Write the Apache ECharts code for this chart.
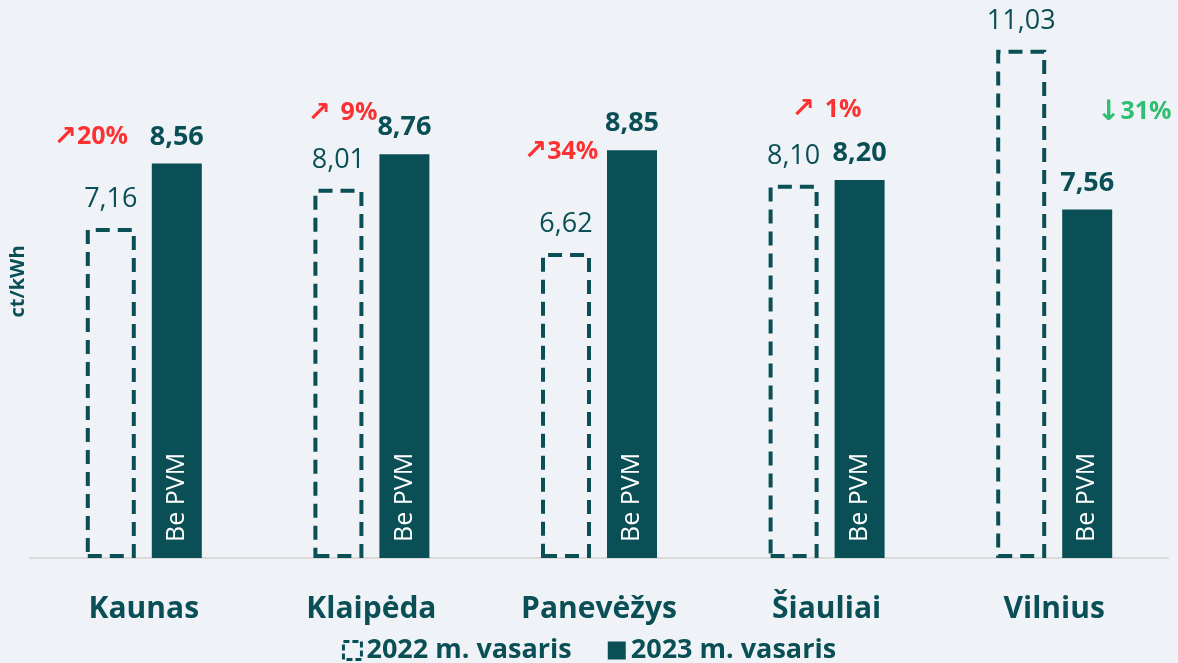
<!DOCTYPE html>
<html>
<head>
<meta charset="utf-8">
<script src="https://cdn.jsdelivr.net/npm/echarts@6/dist/echarts.min.js"></script>
<style>
  html, body { margin: 0; padding: 0; background: #eff3f7; }
  #main { width: 1178px; height: 663px; }
</style>
</head>
<body>
<div id="main"></div>
<script>
// duomenys
var cities = ['Kaunas', 'Klaipėda', 'Panevėžys', 'Šiauliai', 'Vilnius'];
var feb2022 = [7.16, 8.01, 6.62, 8.10, 11.03];
var feb2023 = [8.56, 8.76, 8.85, 8.20, 7.56];
var changeArrow = ['↗', '↗ ', '↗', '↗ ', '↓'];
var changePct = ['20%', '9%', '34%', '1%', '31%'];
var changeUp = [true, true, true, true, false];

// kur padeti pokycio uzrasus (asies vienetais ir px poslinkis)
var changeY = [9.13, 9.65, 8.81, 9.72, 9.67];
var changeDx = [-53, -29, -38, 0, 80];

var teal = '#0a4f55';
var font = '"Open Sans", "DejaVu Sans", sans-serif';

function fmt(v) {
  return v.toFixed(2).replace('.', ',');
}

var chart = echarts.init(document.getElementById('main'));

var changeData = [];
for (var i = 0; i < cities.length; i++) {
  var c = changeUp[i] ? '#ff0000' : '#00b050';
  changeData.push({
    value: [i, changeY[i]],
    label: {
      offset: [changeDx[i], 0],
      rich: {
        a: { color: c, fontSize: 28, fontWeight: 'bold', fontFamily: '"DejaVu Sans"' },
        p: { color: c, fontSize: 25, fontWeight: 'bold', fontFamily: font }
      }
    }
  });
}

var option = {
  backgroundColor: '#eff3f7',
  textStyle: { fontFamily: font },
  grid: { left: 30, right: 10, top: 5, bottom: 105 },
  legend: {
    bottom: -6,
    left: 'center',
    data: [
      { name: '2022 m. vasaris', icon: 'rect', itemStyle: { borderWidth: 3, borderType: [6, 3] } },
      { name: '2023 m. vasaris', icon: 'rect' }
    ],
    itemWidth: 18,
    itemHeight: 18,
    itemGap: 36,
    textStyle: { color: teal, fontSize: 27, fontWeight: 'bold', fontFamily: font }
  },
  xAxis: {
    type: 'category',
    data: cities,
    axisLine: { lineStyle: { color: '#d9d9d9', width: 2 } },
    axisTick: { show: false },
    axisLabel: { color: teal, fontSize: 30, fontWeight: 'bold', margin: 36, fontFamily: font }
  },
  yAxis: {
    type: 'value',
    min: 0,
    max: 12,
    name: 'ct/kWh',
    nameLocation: 'middle',
    nameGap: 2,
    nameTextStyle: { color: teal, fontSize: 20, fontWeight: 'bold', fontFamily: font },
    axisLine: { show: false },
    axisTick: { show: false },
    axisLabel: { show: false },
    splitLine: { show: false }
  },
  series: [
    {
      name: '2022 m. vasaris',
      type: 'bar',
      data: feb2022,
      barWidth: 50,
      barGap: '32%',
      itemStyle: {
        color: 'rgba(0,0,0,0)',
        borderColor: teal,
        borderWidth: 4,
        borderType: [14, 8]
      },
      label: {
        show: true,
        position: 'top',
        distance: 15,
        color: teal,
        fontSize: 27,
        fontFamily: font,
        formatter: function (p) { return fmt(p.value); }
      }
    },
    {
      name: '2023 m. vasaris',
      type: 'bar',
      stack: 'y2023',
      data: feb2023,
      barWidth: 50,
      itemStyle: { color: teal },
      label: {
        show: true,
        position: 'insideBottom',
        rotate: 90,
        align: 'left',
        verticalAlign: 'middle',
        distance: 16,
        color: '#ffffff',
        fontSize: 25,
        fontFamily: font,
        formatter: 'Be PVM'
      }
    },
    {
      name: 'reiksmes',
      type: 'bar',
      stack: 'y2023',
      data: feb2023.map(function () { return 0; }),
      barWidth: 50,
      itemStyle: { color: 'rgba(0,0,0,0)' },
      label: {
        show: true,
        position: 'top',
        distance: 13,
        color: teal,
        fontSize: 27,
        fontWeight: 'bold',
        fontFamily: font,
        formatter: function (p) { return fmt(feb2023[p.dataIndex]); }
      }
    },
    {
      name: 'pokytis',
      type: 'scatter',
      data: changeData,
      symbolSize: 0,
      silent: true,
      label: {
        show: true,
        position: 'inside',
        formatter: function (p) {
          return '{a|' + changeArrow[p.dataIndex] + '}{p|' + changePct[p.dataIndex] + '}';
        }
      }
    }
  ]
};

chart.setOption(option);
</script>
</body>
</html>
